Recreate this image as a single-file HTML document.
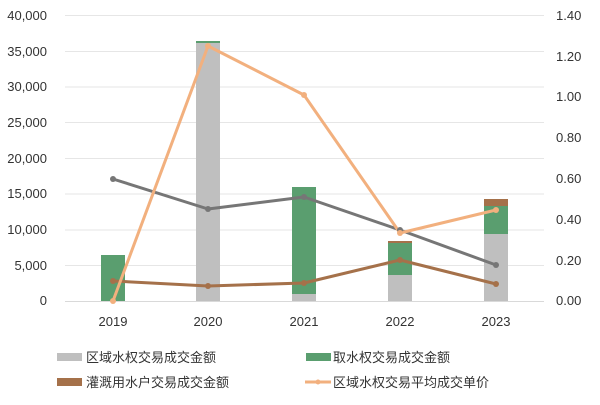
<!DOCTYPE html>
<html><head><meta charset="utf-8"><style>
body{margin:0;background:#fff}
svg text{font-family:"Liberation Sans","Noto Sans CJK SC",sans-serif;fill:#333}
</style></head><body>
<svg width="600" height="400" viewBox="0 0 600 400">
<g stroke="#e6e6e6" stroke-width="1">
<line x1="65" x2="544" y1="15.5" y2="15.5"/><line x1="65" x2="544" y1="51.5" y2="51.5"/>
<line x1="65" x2="544" y1="87" y2="87"/><line x1="65" x2="544" y1="122.5" y2="122.5"/>
<line x1="65" x2="544" y1="158.5" y2="158.5"/><line x1="65" x2="544" y1="194" y2="194"/>
<line x1="65" x2="544" y1="230" y2="230"/><line x1="65" x2="544" y1="265.5" y2="265.5"/>
</g>
<line x1="65" x2="544" y1="301.5" y2="301.5" stroke="#d9d9d9"/>
<g font-size="13" text-anchor="end">
<text x="47" y="20">40,000</text><text x="47" y="56">35,000</text><text x="47" y="91">30,000</text>
<text x="47" y="127">25,000</text><text x="47" y="163">20,000</text><text x="47" y="198">15,000</text>
<text x="47" y="234">10,000</text><text x="47" y="270">5,000</text><text x="47" y="305">0</text>
</g>
<g font-size="13">
<text x="556" y="20">1.40</text><text x="556" y="61">1.20</text><text x="556" y="101">1.00</text>
<text x="556" y="142">0.80</text><text x="556" y="183">0.60</text><text x="556" y="224">0.40</text>
<text x="556" y="265">0.20</text><text x="556" y="305">0.00</text>
</g>
<g font-size="13" text-anchor="middle">
<text x="113" y="326">2019</text><text x="208" y="326">2020</text><text x="304" y="326">2021</text>
<text x="400" y="326">2022</text><text x="496" y="326">2023</text>
</g>
<rect x="101" y="255" width="24" height="46" fill="#5a9e6f"/>
<rect x="196" y="43" width="24" height="258" fill="#bfbfbf"/>
<rect x="196" y="41" width="24" height="2" fill="#5a9e6f"/>
<rect x="292" y="294" width="24" height="7" fill="#bfbfbf"/>
<rect x="292" y="187" width="24" height="107" fill="#5a9e6f"/>
<rect x="388" y="275" width="24" height="26" fill="#bfbfbf"/>
<rect x="388" y="243" width="24" height="32" fill="#5a9e6f"/>
<rect x="388" y="241" width="24" height="2" fill="#a5714a"/>
<rect x="484" y="234" width="24" height="67" fill="#bfbfbf"/>
<rect x="484" y="206" width="24" height="28" fill="#5a9e6f"/>
<rect x="484" y="199" width="24" height="7" fill="#a5714a"/>
<g fill="none" stroke-width="3" stroke-linejoin="round">
<polyline points="113,179 208,209 304,197 400,230 496,265" stroke="#767676"/>
<polyline points="113,281 208,286 304,283 400,260 496,284" stroke="#a5714a"/>
<polyline points="113,301 208,46 304,95 400,233 496,210" stroke="#f2b07e"/>
</g>
<g fill="#767676"><circle cx="113" cy="179" r="3"/><circle cx="208" cy="209" r="3"/><circle cx="304" cy="197" r="3"/><circle cx="400" cy="230" r="3"/><circle cx="496" cy="265" r="3"/></g>
<g fill="#a5714a"><circle cx="113" cy="281" r="3"/><circle cx="208" cy="286" r="3"/><circle cx="304" cy="283" r="3"/><circle cx="400" cy="260" r="3"/><circle cx="496" cy="284" r="3"/></g>
<g fill="#f2b07e"><circle cx="113" cy="301" r="3"/><circle cx="208" cy="46" r="3"/><circle cx="304" cy="95" r="3"/><circle cx="400" cy="233" r="3"/><circle cx="496" cy="210" r="3"/></g>
<rect x="57" y="353" width="25" height="8" fill="#bfbfbf"/>
<text x="86" y="362" font-size="13">区域水权交易成交金额</text>
<rect x="306" y="353" width="25" height="8" fill="#5a9e6f"/>
<text x="333" y="362" font-size="13">取水权交易成交金额</text>
<rect x="57" y="378" width="25" height="8" fill="#a5714a"/>
<text x="86" y="387" font-size="13">灌溉用水户交易成交金额</text>
<line x1="305" x2="331" y1="382" y2="382" stroke="#f2b07e" stroke-width="3"/>
<circle cx="318" cy="382" r="2.5" fill="#f2b07e"/>
<text x="333" y="387" font-size="13">区域水权交易平均成交单价</text>
</svg>
</body></html>
